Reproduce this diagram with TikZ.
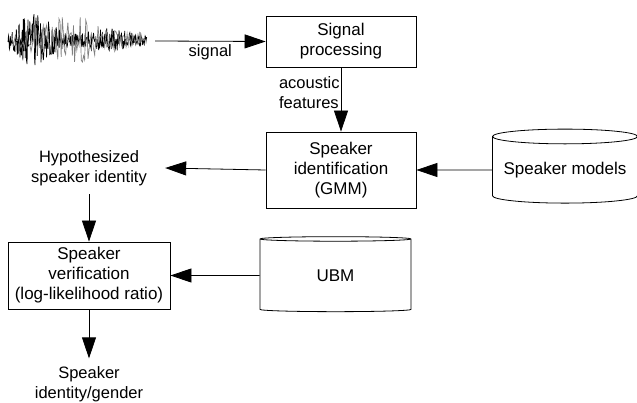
\documentclass[tikz,border=0pt]{standalone}
\usepackage{fontspec}
\setmainfont{Liberation Sans}
\usetikzlibrary{positioning, arrows.meta, shapes.geometric}

\begin{document}
\begin{tikzpicture}[x=1pt, y=-1pt, line width=0.8pt]

	\tikzstyle{block}=[draw, align=center, font=\fontsize{17}{20}\selectfont, inner sep=0pt]
	\tikzstyle{store}=[draw, cylinder, shape border rotate=90, aspect=0.12, inner sep=0pt, font=\fontsize{17}{20}\selectfont]
	\tikzstyle{label}=[align=center, font=\fontsize{16.5}{20}\selectfont]
	\tikzstyle{flow}=[-{Triangle[length=21pt, width=14pt]}]

	\useasboundingbox (0,0) rectangle (637,403);

	% waveform
	\pgfmathsetseed{7}
	\draw[line width=0.7pt] plot[samples=300, domain=8:147] (\x, {40 + (3 + 24*exp(-((\x-35)/22)^2) + 9*exp(-((\x-110)/30)^2))*rand});
	\draw[gray, line width=0.7pt] plot[samples=120, domain=12:145] (\x, {40 + (4 + 20*exp(-((\x-70)/40)^2))*rand});
	\coordinate (wave) at (155,41);

	\node[block, minimum width=150pt, minimum height=51pt] (sp) at (341,41.5) {Signal\\processing};
	\node[block, minimum width=150pt, minimum height=76pt] (sid) at (341,170) {Speaker\\identification\\(GMM)};
	\node[store, minimum width=145pt, minimum height=74pt] (models) at (565,170) {Speaker models};
	\node[store, minimum width=151pt, minimum height=75pt] (ubm) at (335.5,275.5) {UBM};
	\node[block, minimum width=162pt, minimum height=67pt] (sv) at (89,275.5) {Speaker\\verification\\(log-likelihood ratio)};

	\node[label, inner xsep=18pt, inner ysep=8pt] (hyp) at (89,168) {Hypothesized\\speaker identity};
	\node[label, below=49pt of sv.south, anchor=north, inner ysep=8pt] (result) {Speaker\\identity/gender};

	\draw[flow] (wave) -- (sp.west) node [midway, below, label]{signal};
	\draw[flow] (sp.south) -- (sid.north) node [pos=0.4, left, label, align=left, inner sep=1pt]{acoustic\\features};
	\draw[flow] (sid.west) -- (hyp.east);
	\draw[flow] (models.west) -- (sid.east);
	\draw[flow] (hyp.south) -- (sv.north);
	\draw[flow] (ubm.west) -- (sv.east);
	\draw[flow] (sv.south) -- (result.north);

\end{tikzpicture}
\end{document}
